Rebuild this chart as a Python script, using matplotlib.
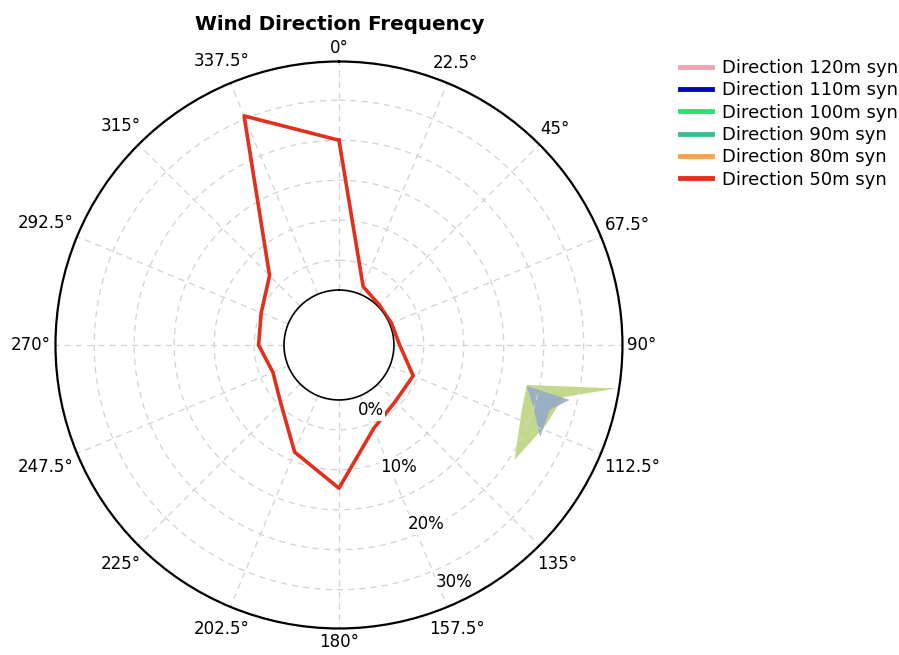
import numpy as np
import matplotlib
matplotlib.use("Agg")
import matplotlib.pyplot as plt

plt.rcParams["font.family"] = ["DejaVu Sans"]

# compass sectors (deg clockwise from north) and their labels
dir_deg = [0, 22.5, 45, 67.5, 90, 112.5, 135, 157.5,
           180, 202.5, 225, 247.5, 270, 292.5, 315, 337.5]
dir_labels = ["0°", "22.5°", "45°", "67.5°", "90°", "112.5°", "135°", "157.5°",
              "180°", "202.5°", "225°", "247.5°", "270°", "292.5°", "315°", "337.5°"]

# frequency (%) per sector, 50m series (the only one visible)
freq_50m = [23.6, 1.3, 0.3, 0.3, 0.9, 4.0, 3.9, 5.6,
            13.9, 9.6, 4.3, 2.6, 4.0, 4.6, 6.8, 30.4]

series_names = ["Direction 120m syn", "Direction 110m syn", "Direction 100m syn",
                "Direction 90m syn", "Direction 80m syn", "Direction 50m syn"]
series_colors = ["#f2a2aa", "#0008b8", "#2ee070", "#34c090", "#f8a24e", "#e2301c"]

# radial labels
r_ticks = [0, 10, 20, 30]
r_ticklabels = ["0%", "10%", "20%", "30%"]
ring_r = [4.7, 11.0, 17.3, 23.6, 29.9]
r_max = 36

# odd smudge near the 100-deg edge
blob_green_deg = [102.0, 98.9, 103.1, 111.1, 123.2, 109.6]
blob_green_r = [21.6, 35.6, 27.6, 26.3, 24.4, 21.9]
blob_blue_deg = [102.3, 103.4, 107.1, 114.6, 107.2]
blob_blue_r = [21.6, 28.7, 26.1, 26.2, 23.3]

fig = plt.figure(figsize=(8.99, 6.55), dpi=100)
ax = fig.add_axes([0.0617, 0.0405, 0.6307, 0.8656], projection="polar")
ax.set_theta_zero_location("N")
ax.set_theta_direction(-1)
ax.set_ylim(0, r_max)
ax.set_rorigin(-8.66)

theta = np.deg2rad(dir_deg)
ax.set_thetagrids(dir_deg, [""] * len(dir_deg))
ax.set_rgrids(ring_r, labels=[""] * len(ring_r))
ax.grid(True, linestyle=(0, (5, 4)), color="#d2d2d2", linewidth=0.9)

ax.spines["polar"].set_linewidth(1.6)
ax.spines["polar"].set_color("black")
ax.spines["inner"].set_linewidth(1.2)
ax.spines["inner"].set_color("black")

# smudge
ax.fill(np.deg2rad(blob_green_deg), blob_green_r, color="#bcd57f", alpha=0.9, lw=0)
ax.fill(np.deg2rad(blob_blue_deg), blob_blue_r, color="#93a8cc", alpha=0.85, lw=0)

# hidden series only show in the legend
for name, col in zip(series_names[:-1], series_colors[:-1]):
    ax.plot([], [], color=col, lw=3.5, label=name)

th_closed = np.append(theta, theta[0])
r_closed = np.append(freq_50m, freq_50m[0])
ax.plot(th_closed, r_closed, color=series_colors[-1], lw=2.6, label=series_names[-1],
        zorder=3)

for val, lab in zip(r_ticks, r_ticklabels):
    ax.text(np.deg2rad(154), val + 2.8, lab, fontsize=12, ha="center", va="center",
            zorder=5, bbox=dict(facecolor="white", edgecolor="none", pad=1.0))

# direction labels: keep a small gap between the box edge and the circle
fig.canvas.draw()
renderer = fig.canvas.get_renderer()
gap = 5
for ang, lab in zip(dir_deg, dir_labels):
    t = ax.annotate(lab, xy=(np.deg2rad(ang), r_max), xytext=(0, 0),
                    textcoords="offset points", ha="center", va="center",
                    fontsize=12, annotation_clip=False)
    bb = t.get_window_extent(renderer)
    s, c = np.sin(np.deg2rad(ang)), np.cos(np.deg2rad(ang))
    d = gap + abs(s) * bb.width / 2 + abs(c) * bb.height / 2
    t.set_position((d * s * 0.72, d * c * 0.72))

fig.text(340 / 899, 1 - 30 / 655, "Wind Direction Frequency", fontsize=14.3,
         fontweight="bold", ha="center", va="baseline")

h, l = ax.get_legend_handles_labels()
leg = fig.legend(h, l, loc="upper left", bbox_to_anchor=(680 / 899, 1 - 59 / 655),
                 frameon=False, fontsize=13, borderpad=0, labelspacing=0.24,
                 handlelength=1.75, handletextpad=0.55, borderaxespad=0)
for line in leg.get_lines():
    line.set_linewidth(3.5)

fig.savefig("out.png", dpi=100)
